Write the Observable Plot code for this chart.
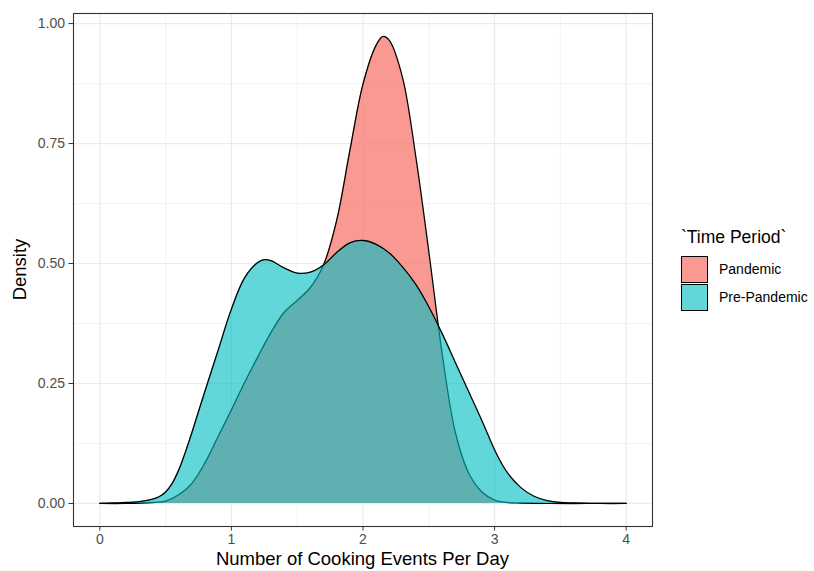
<!DOCTYPE html>
<html>
<head>
<meta charset="utf-8">
<script src="https://cdn.jsdelivr.net/npm/d3@7"></script>
<script src="https://cdn.jsdelivr.net/npm/@observablehq/plot@0.6"></script>
<style>
  body { margin: 0; background: #fff; }
  #wrap { position: relative; width: 814px; height: 571px; font-family: "Liberation Sans", Arial, sans-serif; }
  #legend { position: absolute; left: 681px; top: 226px; }
  #legend .title { font-size: 17.5px; color: #000; margin-bottom: 7px; line-height: 22px; }
  #legend .row { display: flex; align-items: center; height: 28px; }
  #legend .key { width: 27px; height: 27px; border: 1.3px solid #000; box-sizing: border-box; margin-right: 11px; }
  #legend .lab { font-size: 14px; color: #000; }
</style>
</head>
<body>
<div id="wrap"></div>
<script>
// Series names and colours
const seriesNames = ["Pandemic", "Pre-Pandemic"];
const seriesColors = ["#F8766D", "#00BFC4"];

// Pandemic density curve (x, density)
const pandemicX = [0, 0.2, 0.4, 0.5, 0.6, 0.7, 0.8, 0.9, 1.0, 1.1, 1.2, 1.3, 1.4, 1.5, 1.6, 1.7, 1.8, 1.9, 2.0, 2.1, 2.15, 2.2, 2.3, 2.4, 2.5, 2.6, 2.7, 2.8, 2.9, 3.0, 3.1, 3.2, 3.4, 3.7, 4.0];
const pandemicY = [0, 0, 0.002, 0.005, 0.018, 0.042, 0.085, 0.14, 0.195, 0.252, 0.305, 0.356, 0.398, 0.423, 0.45, 0.497, 0.59, 0.735, 0.874, 0.955, 0.973, 0.965, 0.888, 0.725, 0.525, 0.315, 0.15, 0.065, 0.025, 0.007, 0.002, 0.001, 0, 0, 0];

// Pre-Pandemic density curve (x, density)
const preX = [0, 0.1, 0.2, 0.3, 0.35, 0.4, 0.45, 0.5, 0.55, 0.6, 0.65, 0.7, 0.8, 0.9, 1.0, 1.1, 1.2, 1.25, 1.3, 1.4, 1.5, 1.6, 1.7, 1.8, 1.9, 2.0, 2.1, 2.2, 2.3, 2.4, 2.5, 2.6, 2.7, 2.8, 2.9, 2.95, 3.0, 3.05, 3.1, 3.2, 3.3, 3.4, 3.5, 3.6, 3.8, 4.0];
const preY = [0, 0.001, 0.002, 0.004, 0.006, 0.009, 0.014, 0.024, 0.042, 0.07, 0.107, 0.148, 0.235, 0.32, 0.405, 0.47, 0.502, 0.508, 0.506, 0.491, 0.48, 0.482, 0.497, 0.523, 0.543, 0.548, 0.54, 0.522, 0.493, 0.457, 0.41, 0.355, 0.295, 0.235, 0.175, 0.143, 0.112, 0.085, 0.063, 0.033, 0.015, 0.006, 0.002, 0.001, 0, 0];

// Ticks
const xTicks = [0, 1, 2, 3, 4];
const xMinor = [0.5, 1.5, 2.5, 3.5];
const yTicks = [0, 0.25, 0.5, 0.75, 1];
const yMinor = [0.125, 0.375, 0.625, 0.875];

const xLabel = "Number of Cooking Events Per Day";
const yLabel = "Density";
const legendTitle = "`Time Period`";

const pandemic = pandemicX.map((x, i) => ({x, y: pandemicY[i]}));
const pre = preX.map((x, i) => ({x, y: preY[i]}));

const W = 814, H = 571, mL = 73, mR = 162, mT = 13, mB = 45;
const opac = [0.75, 0.62];

const plot = Plot.plot({
  width: W, height: H,
  marginLeft: mL, marginRight: mR, marginTop: mT, marginBottom: mB,
  x: {domain: [-0.2, 4.2]},
  y: {domain: [-0.048, 1.021]},
  style: {fontFamily: "'Liberation Sans', Arial, sans-serif", fontSize: "14px", background: "#fff"},
  marks: [
    Plot.ruleX(xMinor, {stroke: "#EBEBEB", strokeWidth: 0.6}),
    Plot.ruleY(yMinor, {stroke: "#EBEBEB", strokeWidth: 0.6}),
    Plot.ruleX(xTicks, {stroke: "#EBEBEB", strokeWidth: 1.2}),
    Plot.ruleY(yTicks, {stroke: "#EBEBEB", strokeWidth: 1.2}),
    Plot.areaY(pandemic, {x: "x", y: "y", fill: seriesColors[0], fillOpacity: opac[0], curve: "catmull-rom"}),
    Plot.line(pandemic, {x: "x", y: "y", stroke: "#000", strokeWidth: 1.3, curve: "catmull-rom"}),
    Plot.areaY(pre, {x: "x", y: "y", fill: seriesColors[1], fillOpacity: opac[1], curve: "catmull-rom"}),
    Plot.line(pre, {x: "x", y: "y", stroke: "#000", strokeWidth: 1.3, curve: "catmull-rom"}),
    Plot.frame({stroke: "#333", strokeWidth: 1.1}),
    Plot.axisX(xTicks, {tickSize: 4.5, tickPadding: 3, stroke: "#333", color: "#4D4D4D", label: null, tickFormat: d3.format("d")}),
    Plot.axisY(yTicks, {tickSize: 4.5, tickPadding: 4, stroke: "#333", color: "#4D4D4D", label: null, tickFormat: d3.format(".2f")})
  ]
});

const wrap = document.getElementById("wrap");
wrap.appendChild(plot);

// axis titles
const svg = d3.select(plot);
svg.append("text")
  .attr("x", mL + (W - mL - mR) / 2)
  .attr("y", H - 6)
  .attr("text-anchor", "middle")
  .attr("font-size", "18.5px")
  .attr("fill", "#000")
  .text(xLabel);
svg.append("text")
  .attr("transform", `translate(26,${mT + (H - mT - mB) / 2}) rotate(-90)`)
  .attr("text-anchor", "middle")
  .attr("font-size", "18.5px")
  .attr("fill", "#000")
  .text(yLabel);

// legend
const legend = document.createElement("div");
legend.id = "legend";
const t = document.createElement("div");
t.className = "title";
t.textContent = legendTitle;
legend.appendChild(t);
seriesNames.forEach((name, i) => {
  const row = document.createElement("div");
  row.className = "row";
  const key = document.createElement("div");
  key.className = "key";
  key.style.background = d3.color(seriesColors[i]).copy({opacity: opac[i]}).formatRgb();
  const lab = document.createElement("span");
  lab.className = "lab";
  lab.textContent = name;
  row.appendChild(key);
  row.appendChild(lab);
  legend.appendChild(row);
});
wrap.appendChild(legend);
</script>
</body>
</html>
